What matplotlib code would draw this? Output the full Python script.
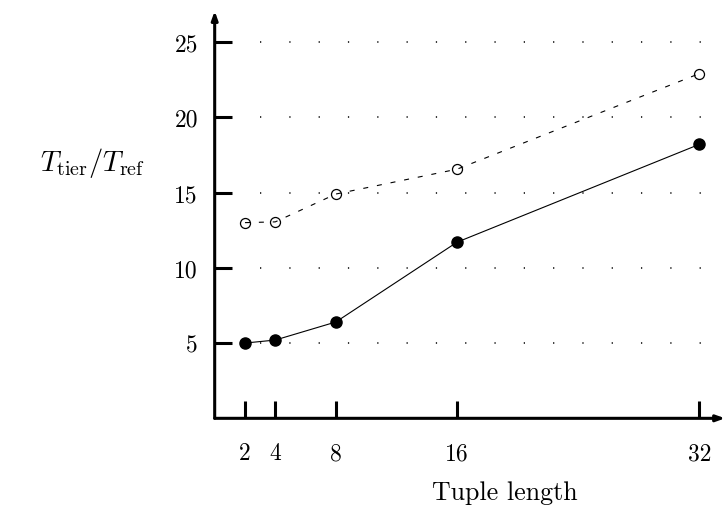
import matplotlib
matplotlib.use('Agg')
import matplotlib.pyplot as plt

plt.rcParams['font.family'] = 'cmr10'
plt.rcParams['mathtext.fontset'] = 'cm'
plt.rcParams['axes.formatter.use_mathtext'] = True
plt.rcParams['lines.scale_dashes'] = False

# data
tuple_length = [2, 4, 8, 16, 32]
filled_series = [5.0, 5.2, 6.4, 11.7, 18.2]
open_series = [13.0, 13.05, 14.9, 16.55, 22.9]
y_ticks = [5, 10, 15, 20, 25]

fig = plt.figure(figsize=(7.28, 5.06), dpi=100)
ax = fig.add_axes([0.2949, 0.1713, 0.7011, 0.805])
ax.set_xlim(0, 33.7)
ax.set_ylim(0, 27.06)

# dotted horizontal guide lines
for yv in y_ticks:
    ax.plot([3.0, 33.7], [yv, yv], color='black', lw=1.1,
            linestyle=(0, (0.9, 20.2)), dash_capstyle='butt', zorder=1)

# open circles with dashed line drawn over them
ax.plot(tuple_length, open_series, linestyle='none', marker='o', ms=7.2,
        mfc='white', mec='black', mew=0.9, zorder=2)
ax.plot(tuple_length, open_series, color='black', lw=0.8,
        linestyle=(0, (3.6, 6.4)), zorder=3)

# filled circles with solid line
ax.plot(tuple_length, filled_series, color='black', lw=0.8, marker='o',
        ms=8, mfc='black', mec='black', zorder=3)

for s in ax.spines.values():
    s.set_visible(False)

# axes with arrow heads
ax.annotate('', xy=(1, 0), xytext=(0, 0), xycoords='axes fraction',
            arrowprops=dict(arrowstyle='-|>,head_length=0.5,head_width=0.18',
                            lw=2.2, color='black', shrinkA=0, shrinkB=0))
ax.annotate('', xy=(0, 1), xytext=(0, 0), xycoords='axes fraction',
            arrowprops=dict(arrowstyle='-|>,head_length=0.5,head_width=0.18',
                            lw=2.2, color='black', shrinkA=0, shrinkB=0))

ax.set_xticks(tuple_length)
ax.set_xticklabels([str(v) for v in tuple_length])
ax.set_yticks(y_ticks)
ax.set_yticklabels([str(v) for v in y_ticks])
ax.tick_params(direction='in', length=12, width=2.2, labelsize=17)
ax.tick_params(axis='x', pad=17)
ax.tick_params(axis='y', pad=12)

ax.set_xlabel('Tuple length', fontsize=18.7, va='center', ha='center')
ax.set_ylabel(r'$T_{\rm tier}/T_{\rm ref}$', fontsize=20.5, rotation=0,
              va='center', ha='center')
ax.yaxis.set_label_coords(-0.24, 0.629)
ax.xaxis.set_label_coords(0.569, -0.181)
ax.patch.set_visible(False)

plt.savefig('out.png', dpi=100)
plt.close()
